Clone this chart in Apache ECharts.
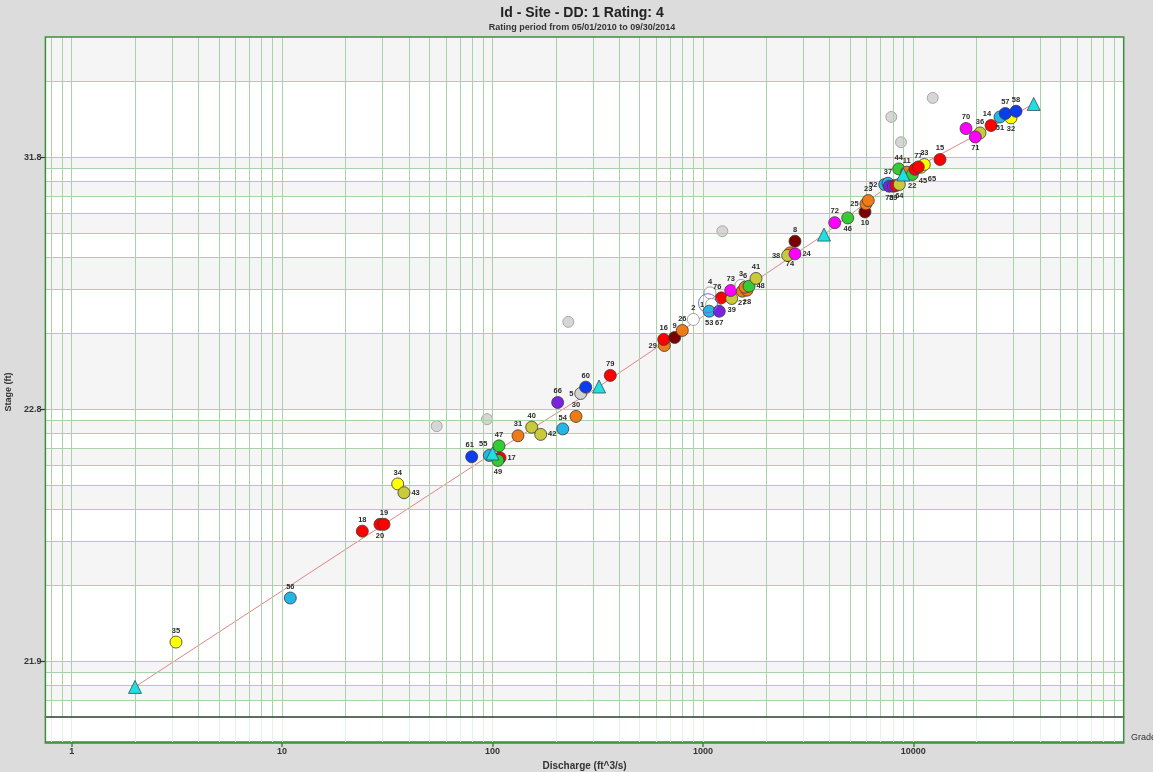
<!DOCTYPE html>
<html><head><meta charset="utf-8">
<script src="https://cdn.jsdelivr.net/npm/echarts@6/dist/echarts.min.js"></script>
<style>html,body{margin:0;padding:0;background:#dcdcdc}#c{width:1153px;height:772px}</style>
</head><body><div id="c"></div>
<script>
// ---------- texts ----------
const titleText = 'Id - Site - DD: 1 Rating: 4';
const subtitleText = 'Rating period from 05/01/2010 to 09/30/2014';
const xName = 'Discharge (ft^3/s)';
const yName = 'Stage (ft)';
const gradeText = 'Grade';
const gageOffset = 21.8;            // stage axis is log of (stage - offset)
const xTicks = [1, 10, 100, 1000, 10000];
const yTicks = [21.9, 22.8, 31.8];
const xRange = [0.75, 100000];
const yRange = [21.86, 51.8];

// ---------- rating curve (offset breakpoints) ----------
const ratingQ     = [2.0, 100, 321, 3763, 8967, 37350];
const ratingStage = [21.879, 22.467, 23.03, 26.73, 30.34, 38.07];

// ---------- measurements ----------
const measId = ['35','56','18','20','19','34','43','61','55','17','49','47','31','40','42','54','30','66','5','60','79',
  '29','16','9','26','2','4','1','53','67','76','39','73','3','27','28','6','48','41','8','74','38','24','72','46','10',
  '25','23','52','37','78','59','','64','44','11','22','45','65','33','77','15','70','36','71','14','51','32','57','58'];
const measQ = [3.131,10.94,24.06,29.19,30.50,35.43,37.96,79.65,96.56,108.6,106.2,107.4,132.2,153.6,169.5,215.7,249.4,204.1,262.6,277.3,362.9,
  655.6,651.3,734.5,798.2,900.4,1081,1101,1072,1196,1223,1371,1356,1517,1539,1620,1585,1656,1788,2740,2594,2529,2740,4231,4878,5893,
  5958,6110,7313,7583,7691,8035,8278,8582,8525,9303,9890,10187,10880,11280,10563,13394,17806,20750,19710,23410,25830,29130,27370,30770];
const measStage = [21.919,21.978,22.128,22.149,22.149,22.305,22.266,22.447,22.455,22.441,22.426,22.515,22.584,22.648,22.594,22.635,22.736,22.863,22.954,23.023,23.161,
  23.589,23.691,23.725,23.853,24.070,24.694,24.403,24.248,24.248,24.565,24.550,24.758,24.897,24.739,24.767,24.849,24.877,25.102,26.442,25.971,25.874,25.934,27.297,27.542,27.866,
  28.326,28.532,29.593,29.685,29.472,29.472,29.522,29.593,30.784,30.517,30.337,30.759,30.924,31.154,30.949,31.592,34.796,34.283,33.836,35.159,36.253,36.122,36.710,37.026];
// measurement group code (one per measurement)
const measGroup = ['Y','C','R','R','R','Y','O','B','C','R','G','G','N','O','O','C','N','P','S','B','R',
  'N','R','K','N','W','W','W','C','P','R','O','M','W','N','N','N','G','O','K','N','O','M','M','G','K',
  'N','N','C','C','P','P','R','O','G','N','G','R','Y','Y','R','R','M','O','M','R','C','Y','B','B'];

// excluded measurements
const exclQ     = [54.29, 94.17, 229.2, 1237, 7861, 8743, 12370];
const exclStage = [22.656, 22.713, 24.020, 26.885, 36.253, 33.269, 38.995];

// selected measurement marker
const selQ = [1057];
const selStage = [24.434];

// ---------- styles ----------
const groupColor = {R:'#ff0000',Y:'#ffff00',O:'#c9c93a',B:'#0a3cf0',C:'#23b6e6',G:'#33cc33',N:'#f07a18',
  P:'#7a22e0',M:'#ff00ff',K:'#7a0000',W:'#ffffff',S:'#d2d2d2'};
const labelPos = {'20':'bottom','43':'right','17':'right','49':'bottom','42':'right','5':'left','29':'left','1':'left',
  '53':'bottom','67':'bottom','39':'bottom','27':'bottom','48':'right','28':'bottom','38':'left','24':'right','74':'bottom',
  '46':'bottom','10':'bottom','25':'left','52':'left','78':'bottom','59':'bottom','64':'bottom','22':'bottom','45':'bottom',
  '65':'bottom','71':'bottom','51':'bottom','32':'bottom'};
const labelOff = {'45':[8,0],'65':[11,0],'55':[-6,0],'61':[-2,0],'76':[-4,0],'14':[-4,0]};
const GREEN = '#3b8f3b', GRIDC = '#a9d2a9', BAND = '#f5f5f5';
const PLOT = {left: 45.4, right: 29.3, top: 37, mainH: 680, gradeH: 26};

// grid line values (log decades)
function logLines(lo, hi){const out=[];for(let e=-3;e<=6;e++){for(let m=1;m<=9;m++){const v=+(m*Math.pow(10,e)).toPrecision(6);if(v>lo*1.0001&&v<hi*0.9999)out.push(v);}}return out;}
const xLines = logLines(xRange[0], xRange[1]);
const yLo = yRange[0]-gageOffset, yHi = yRange[1]-gageOffset;
const yLines = logLines(yLo, yHi);
const yEdges = [yLo, ...yLines, yHi];
const bands = [];
for (let i = 0; i < yEdges.length-1; i++) if (i % 2 === 1) bands.push([{yAxis: yEdges[i]}, {yAxis: yEdges[i+1]}]);

const measData = measId.map((id, i) => {
  const g = measGroup[i];
  const hollow = g === 'W';
  return {
    value: [measQ[i], measStage[i]-gageOffset],
    itemStyle: {color: groupColor[g], borderColor: hollow ? '#8a8a8a' : '#3a3a3a', borderWidth: 0.8, opacity: 1},
    label: {show: id !== '', formatter: id, position: labelPos[id] || 'top', offset: labelOff[id] || [0,0]}
  };
});

const chart = echarts.init(document.getElementById('c'), null, {renderer: 'canvas'});
const fmtX = v => String(Math.round(v));
const fmtY = v => (v + gageOffset).toFixed(1);
const axisFont = {fontFamily: 'Liberation Sans, Arial, sans-serif', fontWeight: 'bold', fontSize: 9, color: '#333'};
const W = 1153;
const plotW = W - PLOT.left - PLOT.right;

chart.setOption({
  animation: false,
  backgroundColor: '#dcdcdc',
  textStyle: {fontFamily: 'Liberation Sans, Arial, sans-serif'},
  grid: [
    {left: PLOT.left, right: PLOT.right, top: PLOT.top, height: PLOT.mainH, show: true, backgroundColor: '#ffffff', borderWidth: 0},
    {left: PLOT.left, right: PLOT.right, top: PLOT.top + PLOT.mainH, height: PLOT.gradeH, show: true, backgroundColor: '#ffffff', borderWidth: 0}
  ],
  xAxis: [
    {gridIndex: 0, type: 'log', min: xRange[0], max: xRange[1],
     axisLine: {show: true, onZero: false, lineStyle: {color: '#2e3e2e', width: 1.5}},
     axisTick: {show: false}, axisLabel: {show: false}, splitLine: {show: false}, z: 20},
    {gridIndex: 1, type: 'log', min: xRange[0], max: xRange[1],
     axisLine: {show: true, onZero: false, lineStyle: {color: GREEN, width: 1.5}},
     axisTick: {show: true, length: 5, customValues: xTicks, lineStyle: {color: GREEN, width: 1.5}},
     axisLabel: Object.assign({customValues: xTicks, formatter: fmtX, margin: 5}, axisFont),
     splitLine: {show: false},
     name: xName, nameLocation: 'middle', nameGap: 19,
     nameTextStyle: {fontFamily: 'Liberation Sans, Arial, sans-serif', fontWeight: 'bold', fontSize: 10, color: '#333'}}
  ],
  yAxis: [
    {gridIndex: 0, type: 'log', min: yLo, max: yHi,
     axisLine: {show: false},
     axisTick: {show: true, length: 5, customValues: yTicks.map(s => s - gageOffset), lineStyle: {color: '#333', width: 1.2}},
     axisLabel: Object.assign({customValues: yTicks.map(s => s - gageOffset), formatter: fmtY, margin: 4}, axisFont),
     splitLine: {show: false}},
    {gridIndex: 1, type: 'value', min: 0, max: 1, show: false}
  ],
  graphic: [
    {type: 'rect', z: 50, silent: true,
     shape: {x: PLOT.left, y: PLOT.top, width: plotW, height: PLOT.mainH + PLOT.gradeH},
     style: {fill: 'none', stroke: GREEN, lineWidth: 1.5}},
    {type: 'text', x: 582, y: 6, style: {text: titleText, font: 'bold 14px "Liberation Sans", Arial, sans-serif', fill: '#222', align: 'center'}, z: 10},
    {type: 'text', x: 582, y: 23, style: {text: subtitleText, font: 'bold 9px "Liberation Sans", Arial, sans-serif', fill: '#333', align: 'center'}, z: 10},
    {type: 'text', x: 4, y: 392, rotation: Math.PI/2, style: {text: yName, font: 'bold 9px "Liberation Sans", Arial, sans-serif', fill: '#333', align: 'center', verticalAlign: 'top'}, z: 10},
    {type: 'text', x: 1131, y: 733, style: {text: gradeText, font: '9px "Liberation Sans", Arial, sans-serif', fill: '#333'}, z: 10}
  ],
  series: [
    {type: 'line', xAxisIndex: 0, yAxisIndex: 0, data: [], z: 1, silent: true,
     markArea: {silent: true, itemStyle: {color: BAND}, data: bands}},
    {type: 'line', xAxisIndex: 0, yAxisIndex: 0, data: [], z: 2, silent: true,
     markLine: {silent: true, symbol: ['none','none'], label: {show: false}, animation: false,
       lineStyle: {color: GRIDC, width: 1, type: 'solid'},
       data: [...xLines.map(v => ({xAxis: v})), ...yLines.map(v => ({yAxis: v}))]}},
    {type: 'line', xAxisIndex: 1, yAxisIndex: 1, data: [], z: 2, silent: true,
     markLine: {silent: true, symbol: ['none','none'], label: {show: false}, animation: false,
       lineStyle: {color: '#e6f2e6', width: 1, type: 'solid'},
       data: xLines.map(v => ({xAxis: v}))}},
    {type: 'line', xAxisIndex: 0, yAxisIndex: 0, z: 3, silent: true, showSymbol: false,
     lineStyle: {color: '#e08585', width: 1},
     data: ratingQ.map((q, i) => [q, ratingStage[i] - gageOffset])},
    {type: 'scatter', xAxisIndex: 0, yAxisIndex: 0, z: 4, symbolSize: 11,
     itemStyle: {color: '#d6d6d6', borderColor: '#999999', borderWidth: 0.8, opacity: 1},
     data: exclQ.map((q, i) => [q, exclStage[i] - gageOffset])},
    {type: 'scatter', xAxisIndex: 0, yAxisIndex: 0, z: 5, symbolSize: 12,
     label: {fontSize: 7.5, fontWeight: 'bold', color: '#2a2a2a', distance: 1, fontFamily: 'Liberation Sans, Arial, sans-serif'},
     data: measData},
    {type: 'scatter', xAxisIndex: 0, yAxisIndex: 0, z: 5, symbol: 'circle', symbolSize: 19,
     itemStyle: {color: 'rgba(0,0,0,0)', borderColor: '#7070d8', borderWidth: 1, opacity: 1},
     data: selQ.map((q, i) => [q, selStage[i] - gageOffset])},
    {type: 'scatter', xAxisIndex: 0, yAxisIndex: 0, z: 6, symbol: 'triangle', symbolSize: 13,
     itemStyle: {color: '#1ee0e0', borderColor: '#3a4a5a', borderWidth: 0.8, opacity: 1},
     data: ratingQ.map((q, i) => [q, ratingStage[i] - gageOffset])}
  ]
});
</script></body></html>
